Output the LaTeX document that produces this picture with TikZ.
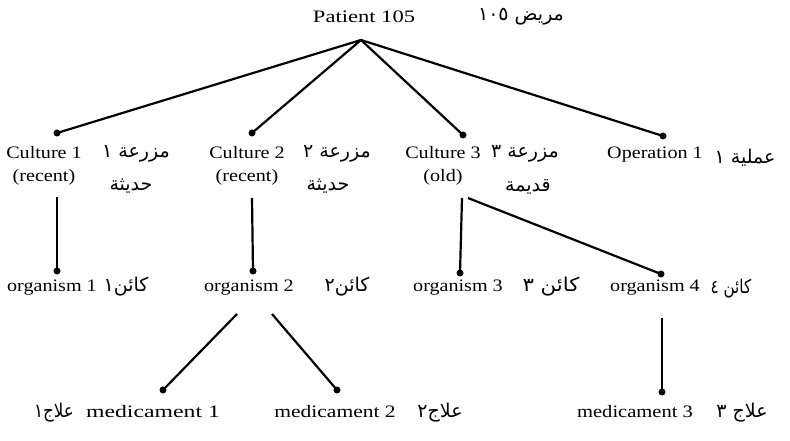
\documentclass[tikz,border=0pt]{standalone}
\usepackage{fontspec}
\setmainfont[FakeStretch=1.15]{Liberation Serif}
\newfontfamily\arabicfont[Script=Arabic]{DejaVu Sans}
\TeXXeTstate=1
\begin{document}
\begin{tikzpicture}[x=1pt,y=-1pt,
  lbl/.style={font=\fontsize{17.5}{23}\selectfont, inner sep=0pt, align=center},
  ar/.style={font=\arabicfont\fontsize{19}{24}\selectfont, inner sep=0pt},
  dot/.style={circle, fill=black, inner sep=0pt, minimum size=7pt},
  link/.style={line width=2.2pt}]
\useasboundingbox (0,0) rectangle (790,441);
% top
\node[lbl] (pat) at (364,17) {\scalebox{1.12}[1]{Patient 105}};
\node[ar] (patar) at (521,17) {\beginR مريض \beginL١٠٥\endL\endR};
\coordinate (apex) at (361,40);
% cultures
\node[dot] (d1) at (57,133) {};
\node[dot] (d2) at (252,133) {};
\node[dot] (d3) at (463,135) {};
\node[dot] (d4) at (663,136) {};
\node[lbl] (c1) at (44,166) {Culture 1\\(recent)};
\node[lbl] (c2) at (247,166) {Culture 2\\(recent)};
\node[lbl] (c3) at (443,166) {Culture 3\\(old)};
\node[lbl] (op) at (655,155) {Operation 1};
\node[ar] (c1a) at (136,154) {\beginR مزرعة ١\endR};
\node[ar] (c1b) at (131,186) {\beginR حديثة\endR};
\node[ar] (c2a) at (337,154) {\beginR مزرعة ٢\endR};
\node[ar] (c2b) at (328,186) {\beginR حديثة\endR};
\node[ar] (c3a) at (525,154) {\beginR مزرعة ٣\endR};
\node[ar] (c3b) at (528,187) {\beginR قديمة\endR};
\node[ar] (opa) at (745,158) {\beginR عملية ١\endR};
\foreach \d in {d1,d2,d3,d4} \draw[link] (apex) -- (\d.center);
% organisms
\coordinate (c1s) at (57,197);
\coordinate (c2s) at (252,198);
\coordinate (c3s) at (462,198);
\coordinate (c3t) at (468,198);
\node[dot] (o1) at (57,271) {};
\node[dot] (o2) at (253,271) {};
\node[dot] (o3) at (460,273) {};
\node[dot] (o4) at (661,274) {};
\draw[link] (c1s) -- (o1.center);
\draw[link] (c2s) -- (o2.center);
\draw[link] (c3s) -- (o3.center);
\draw[link] (c3t) -- (o4.center);
\node[lbl] (g1) at (52,288) {organism 1};
\node[lbl] (g2) at (249,288) {organism 2};
\node[lbl] (g3) at (458,288) {organism 3};
\node[lbl] (g4) at (655,288) {organism 4};
\node[ar] (g1a) at (126,287) {\beginR كائن١\endR};
\node[ar] (g2a) at (347,287) {\beginR كائن٢\endR};
\node[ar] (g3a) at (551,287) {\scalebox{1.12}[1]{\beginR كائن ٣\endR}};
\node[ar] (g4a) at (731,289) {\scalebox{0.8}[1]{\beginR كائن ٤\endR}};
% medicaments
\coordinate (g2l) at (237,314);
\coordinate (g2r) at (272,314);
\coordinate (g4s) at (662,318);
\node[dot] (m1d) at (163,390) {};
\node[dot] (m2d) at (337,390) {};
\node[dot] (m3d) at (662,392) {};
\draw[link] (g2l) -- (m1d.center);
\draw[link] (g2r) -- (m2d.center);
\draw[link] (g4s) -- (m3d.center);
\node[lbl] (m1) at (153,412) {\scalebox{1.18}[1]{medicament 1}};
\node[lbl] (m2) at (335,412) {\scalebox{1.07}[1]{medicament 2}};
\node[lbl] (m3) at (635,412) {\scalebox{1.02}[1]{medicament 3}};
\node[ar] (m1a) at (54,413) {\scalebox{0.88}[1]{\beginR علاج١\endR}};
\node[ar] (m2a) at (440,413) {\beginR علاج٢\endR};
\node[ar] (m3a) at (742,413) {\beginR علاج ٣\endR};
\end{tikzpicture}
\end{document}
